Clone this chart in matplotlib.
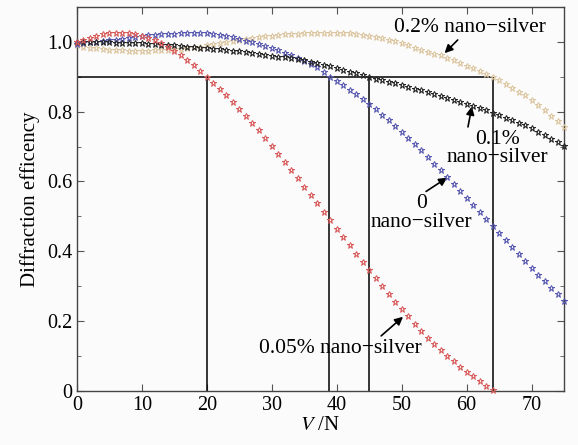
import matplotlib
matplotlib.use('Agg')
import matplotlib.pyplot as plt
import numpy as np
from matplotlib.ticker import MultipleLocator, FuncFormatter

plt.rcParams['font.family'] = ['Liberation Serif', 'DejaVu Serif']
plt.rcParams['mathtext.fontset'] = 'stix'

# applied voltage (V) for each sample, 1 V steps
volts = list(range(0, 76))
volts_005 = list(range(0, 65))

# diffraction efficiency
eff_005 = [1.000, 1.006, 1.012, 1.017, 1.022, 1.025, 1.027, 1.027, 1.025, 1.022,
           1.018, 1.012, 1.005, 0.997, 0.987, 0.975, 0.962, 0.948, 0.933, 0.917,
           0.900, 0.883, 0.866, 0.848, 0.829, 0.809, 0.789, 0.768, 0.747, 0.726,
           0.703, 0.680, 0.657, 0.633, 0.609, 0.585, 0.561, 0.537, 0.513, 0.489,
           0.465, 0.441, 0.417, 0.393, 0.369, 0.345, 0.322, 0.299, 0.276, 0.254,
           0.233, 0.213, 0.192, 0.172, 0.152, 0.133, 0.116, 0.100, 0.084, 0.069,
           0.055, 0.041, 0.027, 0.014, 0.003]

eff_0 = [0.995, 0.997, 0.999, 1.001, 1.003, 1.005, 1.007, 1.010, 1.012, 1.014,
         1.017, 1.019, 1.021, 1.022, 1.023, 1.024, 1.025, 1.026, 1.026, 1.026,
         1.025, 1.023, 1.021, 1.017, 1.013, 1.009, 1.004, 0.999, 0.993, 0.988,
         0.982, 0.976, 0.969, 0.962, 0.955, 0.946, 0.937, 0.927, 0.914, 0.900,
         0.887, 0.876, 0.863, 0.850, 0.837, 0.823, 0.808, 0.792, 0.776, 0.760,
         0.743, 0.726, 0.708, 0.689, 0.670, 0.651, 0.632, 0.612, 0.592, 0.572,
         0.552, 0.532, 0.512, 0.492, 0.471, 0.451, 0.431, 0.411, 0.391, 0.372,
         0.352, 0.333, 0.314, 0.295, 0.277, 0.258]

eff_01 = [1.000, 1.000, 1.000, 0.999, 0.999, 0.999, 0.998, 0.998, 0.997, 0.997,
          0.996, 0.995, 0.994, 0.992, 0.991, 0.990, 0.989, 0.987, 0.986, 0.984,
          0.983, 0.981, 0.979, 0.977, 0.975, 0.973, 0.971, 0.969, 0.966, 0.964,
          0.961, 0.958, 0.956, 0.953, 0.950, 0.947, 0.943, 0.939, 0.935, 0.930,
          0.925, 0.920, 0.915, 0.910, 0.905, 0.900, 0.895, 0.890, 0.886, 0.881,
          0.876, 0.871, 0.866, 0.861, 0.856, 0.851, 0.845, 0.840, 0.834, 0.829,
          0.823, 0.817, 0.810, 0.804, 0.797, 0.790, 0.783, 0.776, 0.768, 0.761,
          0.753, 0.743, 0.733, 0.723, 0.712, 0.701]

eff_02 = [0.990, 0.987, 0.984, 0.982, 0.980, 0.978, 0.977, 0.976, 0.975, 0.975,
          0.975, 0.975, 0.976, 0.977, 0.978, 0.979, 0.981, 0.983, 0.985, 0.987,
          0.990, 0.993, 0.996, 0.999, 1.002, 1.005, 1.008, 1.011, 1.014, 1.016,
          1.018, 1.020, 1.022, 1.023, 1.024, 1.025, 1.026, 1.026, 1.027, 1.027,
          1.027, 1.026, 1.025, 1.023, 1.021, 1.018, 1.015, 1.012, 1.007, 1.002,
          0.996, 0.990, 0.984, 0.978, 0.972, 0.966, 0.962, 0.955, 0.947, 0.940,
          0.932, 0.924, 0.916, 0.908, 0.900, 0.890, 0.880, 0.869, 0.858, 0.847,
          0.835, 0.820, 0.805, 0.789, 0.773, 0.756]

# 90% efficiency threshold and the voltages where each curve crosses it
threshold = 0.9
cross_volts = [20, 38.8, 45, 64]

fig = plt.figure(figsize=(5.78, 4.45), dpi=100)
fig.patch.set_facecolor('#fbfbfb')
ax = fig.add_axes([0.133, 0.122, 0.843, 0.862])
ax.set_facecolor('#fbfbfb')

star = dict(marker='*', linestyle='none', markersize=5, markerfacecolor='none',
            markeredgewidth=0.75, clip_on=False)
ax.plot(volts, eff_02, color='#dcc6a0', zorder=3, **star)
ax.plot(volts, eff_0, color='#5858b0', zorder=4, **star)
ax.plot(volts, eff_01, color='#262626', zorder=5, **star)
ax.plot(volts_005, eff_005, color='#d85a5a', zorder=6, **star)

# reference lines
ax.hlines(threshold, 0, max(cross_volts), color='black', lw=1.1, zorder=2)
ax.vlines(cross_volts, 0, threshold, color='black', lw=1.1, zorder=2)

ax.set_xlim(0, 75)
ax.set_ylim(0, 1.1)
ax.xaxis.set_major_locator(MultipleLocator(10))
ax.yaxis.set_major_locator(MultipleLocator(0.2))
ax.yaxis.set_minor_locator(MultipleLocator(0.1))
ax.yaxis.set_major_formatter(FuncFormatter(lambda v, p: '0' if abs(v) < 1e-9 else f'{v:.1f}'))
ax.tick_params(which='both', direction='in', top=True, right=True, labelsize=14.5,
               color='#555555')
ax.tick_params(which='major', length=5)
ax.tick_params(which='minor', length=3)
for s in ax.spines.values():
    s.set_color('#444444')
    s.set_linewidth(1.0)

ax.set_xlabel(r'$V$ /N', fontsize=15, labelpad=1)
ax.set_ylabel('Diffraction efficency', fontsize=15, labelpad=5)

arrow = dict(arrowstyle='-|>', color='black', lw=1.2, mutation_scale=12,
             shrinkA=0, shrinkB=0)
ax.annotate('0.2% nano\u2212silver', xy=(56.6, 0.968), xytext=(60.5, 1.041),
            ha='center', va='center', fontsize=15.5, arrowprops=arrow)
ax.annotate('0.1%\nnano\u2212silver', xy=(60.8, 0.815), xytext=(64.7, 0.695),
            ha='center', va='center', fontsize=15.5, linespacing=0.95,
            arrowprops=dict(arrow, relpos=(0.2, 0.9)))
ax.annotate('0\nnano\u2212silver', xy=(57.0, 0.611), xytext=(53.1, 0.51),
            ha='center', va='center', fontsize=15.5, linespacing=0.95,
            arrowprops=dict(arrow, relpos=(0.5, 1.0)))
ax.annotate('0.05% nano\u2212silver', xy=(50.2, 0.212), xytext=(40.5, 0.122),
            ha='center', va='center', fontsize=15.5,
            arrowprops=dict(arrow, relpos=(0.72, 0.9)))

fig.savefig('out.png', dpi=100, facecolor=fig.get_facecolor())
